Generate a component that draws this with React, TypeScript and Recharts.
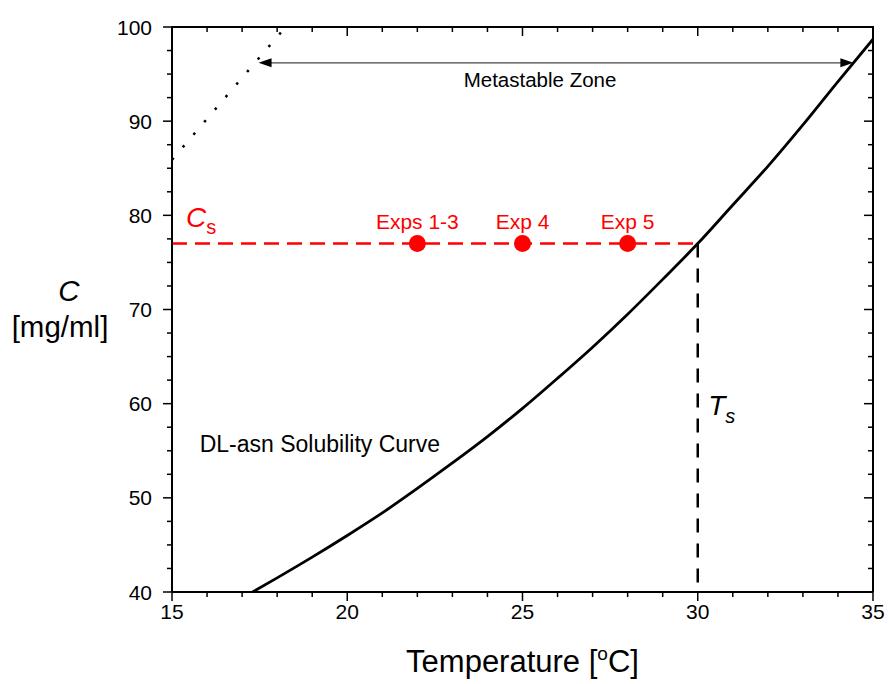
import React from 'react';
import { ComposedChart, Line, Scatter, XAxis, YAxis, ReferenceDot, ReferenceLine } from 'recharts';

const FONT = '"Liberation Sans", Arial, Helvetica, sans-serif';

// solubility curve (temperature in C, concentration in mg/ml)
const solT = [17.3, 18, 19, 20, 21, 22, 23, 24, 25, 26, 27, 28, 29, 30, 31, 32, 33, 34, 35];
const solC = [40.0, 41.5, 43.7, 46.0, 48.4, 51.0, 53.7, 56.5, 59.5, 62.7, 66.0, 69.5, 73.2, 77.0, 81.1, 85.2, 89.6, 94.2, 98.7];

// dotted (metastable limit) line
const dotT = [15, 18.24];
const dotC = [85.9, 100];

// saturation point
const csLevel = 77;
const tsTemp = 30;

// experiments
const expT = [22, 25, 28];
const expLabels = ['Exps 1-3', 'Exp 4', 'Exp 5'];

// metastable zone arrow
const zoneC = 96.2;
const zoneFrom = 17.47;
const zoneTo = 34.44;

// axis range and ticks
const xMin = 15;
const xMax = 35;
const yMin = 40;
const yMax = 100;
const xMajor = [15, 20, 25, 30, 35];
const xTicks = [15, 16, 17, 18, 19, 20, 21, 22, 23, 24, 25, 26, 27, 28, 29, 30, 31, 32, 33, 34, 35];
const yMajor = [40, 50, 60, 70, 80, 90, 100];
const yTicks = [40, 42.5, 45, 47.5, 50, 52.5, 55, 57.5, 60, 62.5, 65, 67.5, 70, 72.5, 75, 77.5, 80, 82.5, 85, 87.5, 90, 92.5, 95, 97.5, 100];

const solData = solT.map((t, i) => ({ t, c: solC[i] }));
const dotData = dotT.map((t, i) => ({ t, c: dotC[i] }));
const csData = [{ t: xMin, c: csLevel }, { t: tsTemp, c: csLevel }];
const tsData = [{ t: tsTemp, c: csLevel }, { t: tsTemp, c: yMin }];
const expData = expT.map((t, i) => ({ t, c: csLevel, label: expLabels[i] }));

// layout
const CHART_W = 881;
const CHART_H = 676;
const MARGIN = { top: 19, right: 16, bottom: 0, left: 0 };
const Y_AXIS_W = 164;
const X_AXIS_H = 92;
const PLOT_L = MARGIN.left + Y_AXIS_W;
const PLOT_T = MARGIN.top;
const PLOT_W = CHART_W - MARGIN.left - MARGIN.right - Y_AXIS_W;
const PLOT_H = CHART_H - MARGIN.top - MARGIN.bottom - X_AXIS_H;

const axisLine = { stroke: '#000', strokeWidth: 2 };

const BottomTick = (p: any) => {
  const v = Number(p.payload.value);
  const x = Number(p.x);
  const y = Number(p.y);
  const major = xMajor.includes(v);
  return (
    <g>
      <line x1={x} x2={x} y1={y} y2={y + (major ? 9 : 5)} stroke="#000" strokeWidth={1.5} />
      {major && (
        <text x={x} y={y + 27} textAnchor="middle" fontSize={21} fontFamily={FONT} fill="#000">
          {v}
        </text>
      )}
    </g>
  );
};

const LeftTick = (p: any) => {
  const v = Number(p.payload.value);
  const x = Number(p.x);
  const y = Number(p.y);
  const major = yMajor.includes(v);
  return (
    <g>
      <line x1={x} x2={x - (major ? 9 : 5)} y1={y} y2={y} stroke="#000" strokeWidth={1.5} />
      {major && (
        <text x={x - 20} y={y + 7.5} textAnchor="end" fontSize={21} fontFamily={FONT} fill="#000">
          {v}
        </text>
      )}
    </g>
  );
};

// mirrored top / right frame with inward ticks, laid over the plot area
const Frame = () => {
  const r = PLOT_L + PLOT_W;
  const b = PLOT_T + PLOT_H;
  const tx = (t: number) => PLOT_L + ((t - xMin) / (xMax - xMin)) * PLOT_W;
  const ty = (v: number) => b - ((v - yMin) / (yMax - yMin)) * PLOT_H;
  return (
    <svg
      width={CHART_W}
      height={CHART_H}
      style={{ position: 'absolute', left: 0, top: 0, pointerEvents: 'none', overflow: 'visible' }}
    >
      <line x1={PLOT_L - 1} x2={r + 1} y1={PLOT_T} y2={PLOT_T} stroke="#000" strokeWidth={2} />
      <line x1={r} x2={r} y1={PLOT_T} y2={b} stroke="#000" strokeWidth={2} />
      {xTicks.map((t) => (
        <line key={`t${t}`} x1={tx(t)} x2={tx(t)} y1={PLOT_T} y2={PLOT_T + (xMajor.includes(t) ? 9 : 5)} stroke="#000" strokeWidth={1.5} />
      ))}
      {yTicks.map((v) => (
        <line key={`r${v}`} x1={r} x2={r - (yMajor.includes(v) ? 9 : 5)} y1={ty(v)} y2={ty(v)} stroke="#000" strokeWidth={1.5} />
      ))}
    </svg>
  );
};

const XTitle = (p: any) => {
  const vb = p.viewBox;
  return (
    <text x={vb.x + vb.width / 2} y={vb.y + 80} textAnchor="middle" fontSize={31} fontFamily={FONT} fill="#000">
      Temperature [
      <tspan fontSize={19} dy={-12}>o</tspan>
      <tspan dy={12}>C]</tspan>
    </text>
  );
};

const YTitle = (p: any) => {
  const vb = p.viewBox;
  const cy = vb.y + vb.height / 2;
  return (
    <g>
      <text x={61} y={cy - 9} textAnchor="middle" fontSize={29.5} fontStyle="italic" fontFamily={FONT} fill="#000">C</text>
      <text x={52} y={cy + 27} textAnchor="middle" fontSize={29.5} fontFamily={FONT} fill="#000">[mg/ml]</text>
    </g>
  );
};

const ZoneArrow = (p: any) => {
  const { x1, x2, y1 } = p;
  const h = 13;
  const w = 4.5;
  return (
    <g>
      <line x1={x1 + 4} x2={x2 - 4} y1={y1} y2={y1} stroke="#444" strokeWidth={1.2} />
      <polygon points={`${x1},${y1} ${x1 + h},${y1 - w} ${x1 + h},${y1 + w}`} fill="#000" />
      <polygon points={`${x2},${y1} ${x2 - h},${y1 - w} ${x2 - h},${y1 + w}`} fill="#000" />
    </g>
  );
};

const ExpDot = (p: any) => (
  <g>
    <circle cx={p.cx} cy={p.cy} r={8.5} fill="#ff0000" />
    <text x={p.cx} y={p.cy - 15} textAnchor="middle" fontSize={21} fontFamily={FONT} fill="#ff0000">
      {p.payload.label}
    </text>
  </g>
);

const textAt = (content: React.ReactNode, opts: any = {}) => (p: any) => (
  <text x={p.cx} y={p.cy} fontFamily={FONT} fill="#000" {...opts}>{content}</text>
);

export default function App() {
  return (
    <div style={{ padding: 8, width: CHART_W, height: CHART_H }}>
      <style>{'body { margin: 0; }'}</style>
      <div style={{ position: 'relative', width: CHART_W, height: CHART_H }}>
        <ComposedChart width={CHART_W} height={CHART_H} margin={MARGIN}>
          <XAxis
            dataKey="t"
            type="number"
            domain={[xMin, xMax]}
            ticks={xTicks}
            interval={0}
            allowDataOverflow
            height={X_AXIS_H}
            axisLine={axisLine}
            tickLine={false}
            tickSize={0}
            tickMargin={0}
            tick={BottomTick}
            label={{ content: XTitle }}
          />
          <YAxis
            type="number"
            domain={[yMin, yMax]}
            ticks={yTicks}
            interval={0}
            allowDataOverflow
            width={Y_AXIS_W}
            axisLine={axisLine}
            tickLine={false}
            tickSize={0}
            tickMargin={0}
            tick={LeftTick}
            label={{ content: YTitle }}
          />

          <Line data={dotData} dataKey="c" stroke="#000" strokeWidth={2.5} strokeDasharray="2.5 14" dot={false} isAnimationActive={false} />
          <Line data={csData} dataKey="c" stroke="#ff0000" strokeWidth={2.5} strokeDasharray="15 8" dot={false} isAnimationActive={false} />
          <Line data={tsData} dataKey="c" stroke="#000" strokeWidth={2.5} strokeDasharray="14 11" dot={false} isAnimationActive={false} />
          <Line data={solData} dataKey="c" type="monotone" stroke="#000" strokeWidth={2.8} dot={false} isAnimationActive={false} />
          <Scatter data={expData} dataKey="c" shape={ExpDot} isAnimationActive={false} />

          <ReferenceLine segment={[{ x: zoneFrom, y: zoneC }, { x: zoneTo, y: zoneC }]} shape={ZoneArrow} />

          <ReferenceDot x={25.5} y={93.6} r={0} shape={textAt('Metastable Zone', { textAnchor: 'middle', fontSize: 20.5 })} />
          <ReferenceDot x={15.79} y={54.9} r={0} shape={textAt('DL-asn Solubility Curve', { fontSize: 23 })} />
          <ReferenceDot
            x={15.4}
            y={78.8}
            r={0}
            shape={textAt(
              <>
                <tspan fontStyle="italic">C</tspan>
                <tspan fontSize={20} dy={7}>s</tspan>
              </>,
              { fontSize: 28, fill: '#ff0000' }
            )}
          />
          <ReferenceDot
            x={30.3}
            y={58.8}
            r={0}
            shape={textAt(
              <>
                <tspan fontStyle="italic">T</tspan>
                <tspan fontSize={20} dy={8} fontStyle="italic">s</tspan>
              </>,
              { fontSize: 28 }
            )}
          />
        </ComposedChart>
        <Frame />
      </div>
    </div>
  );
}
